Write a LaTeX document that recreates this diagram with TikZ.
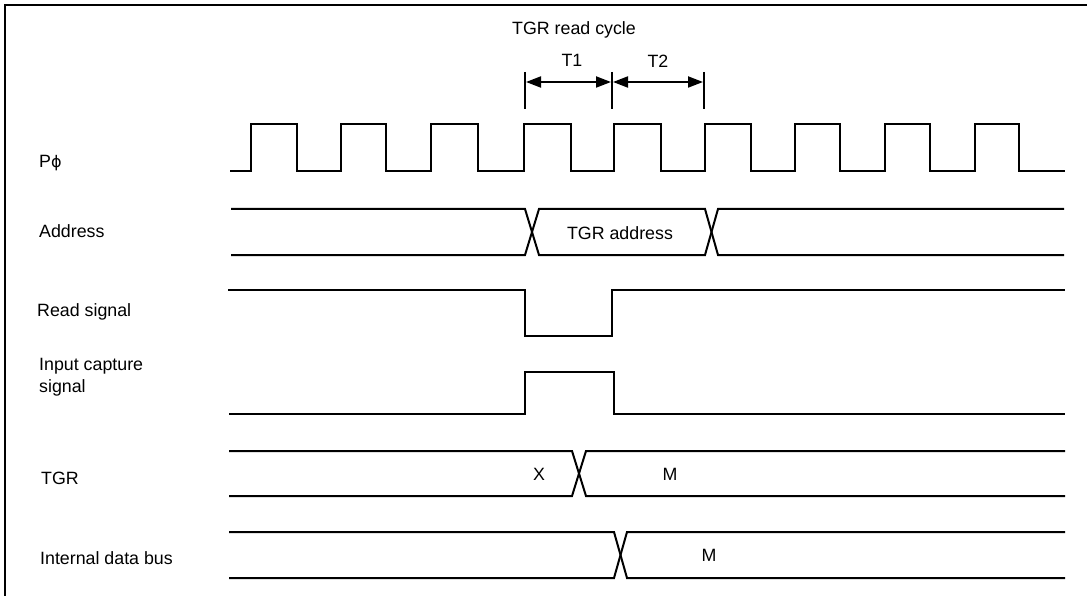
\documentclass[tikz,border=0pt]{standalone}
\usepackage{fontspec}
\setmainfont{Liberation Sans}
\newfontfamily\dvphi{DejaVu Sans}
\usetikzlibrary{arrows.meta}
\begin{document}
\begin{tikzpicture}[x=1pt,y=-1pt,
  sig/.style={line width=2pt, line join=miter, line cap=butt},
  frame/.style={line width=2.3pt},
  lbl/.style={font=\fontsize{17.8}{22}\selectfont, inner sep=0pt, anchor=base west, align=left},
  txt/.style={font=\fontsize{17.8}{22}\selectfont, inner sep=0pt, anchor=base},
  tick/.style={line width=2pt},
  dim/.style={line width=2pt, {Triangle[length=15pt,width=11pt]}-{Triangle[length=15pt,width=11pt]}}
]
\useasboundingbox (0,0) rectangle (1087,596);
\draw[frame] (5,596) -- (5,5) -- (1087,5);

% labels
\node[lbl] (lclk)  at (39,168) {P{\dvphi\fontsize{16}{20}\selectfont ϕ}};
\node[lbl] (laddr) at (39,238) {Address};
\node[lbl] (lrd)   at (37,316) {Read signal};
\node[lbl] (lic)   at (39,392) {Input capture\\signal};
\node[lbl] (ltgr)  at (41,484) {TGR};
\node[lbl] (lbus)  at (40,564) {Internal data bus};

% top annotation
\node[txt] (cyc) at (574,35) {TGR read cycle};
\node[txt] (t1) at (572,66.7) {T1};
\node[txt] (t2) at (658,68) {T2};
\coordinate (v1a) at (525,72); \coordinate (v1b) at (525,109);
\coordinate (v2a) at (612,72); \coordinate (v2b) at (612,109);
\coordinate (v3a) at (704,72); \coordinate (v3b) at (704,109);
\draw[tick] (v1a) -- (v1b);
\draw[tick] (v2a) -- (v2b);
\draw[tick] (v3a) -- (v3b);
\coordinate (a1) at (526,82); \coordinate (a2) at (611,82);
\coordinate (a3) at (613,82); \coordinate (a4) at (703,82);
\draw[dim] (a1) -- (a2);
\draw[dim] (a3) -- (a4);

% clock
\draw[sig] (230,171) -| (251,124) -| (297,171) -| (341,124) -| (386,171)
  -| (431,124) -| (478,171) -| (524,124) -| (571,171) -| (614,124) -| (661,171)
  -| (705,124) -| (751,171) -| (795,124) -| (840,171) -| (885,124) -| (930,171)
  -| (975,124) -| (1019,171) -- (1065,171);

% address
\draw[sig] (231,209) -- (525,209) -- (539,255) -- (705,255) -- (718,209) -- (1064,209);
\draw[sig] (231,255) -- (525,255) -- (539,209) -- (705,209) -- (718,255) -- (1064,255);
\node[txt] (taddr) at (620,239.3) {TGR address};

% read signal
\draw[sig] (228,290) -- (525,290) -- (525,336) -- (612,336) -- (612,290) -- (1065,290);

% input capture
\draw[sig] (229,414) -- (525,414) -- (525,372) -- (614,372) -- (614,414) -- (1065,414);

% TGR
\draw[sig] (229,451) -- (572,451) -- (586,496) -- (1065,496);
\draw[sig] (229,496) -- (572,496) -- (586,451) -- (1065,451);
\node[txt] (tx) at (539,480) {X};
\node[txt] (tm) at (670,480) {M};

% internal data bus
\draw[sig] (229,532) -- (614,532) -- (627,578) -- (1065,578);
\draw[sig] (229,578) -- (614,578) -- (627,532) -- (1065,532);
\node[txt] (bm) at (709,561) {M};
\end{tikzpicture}
\end{document}
